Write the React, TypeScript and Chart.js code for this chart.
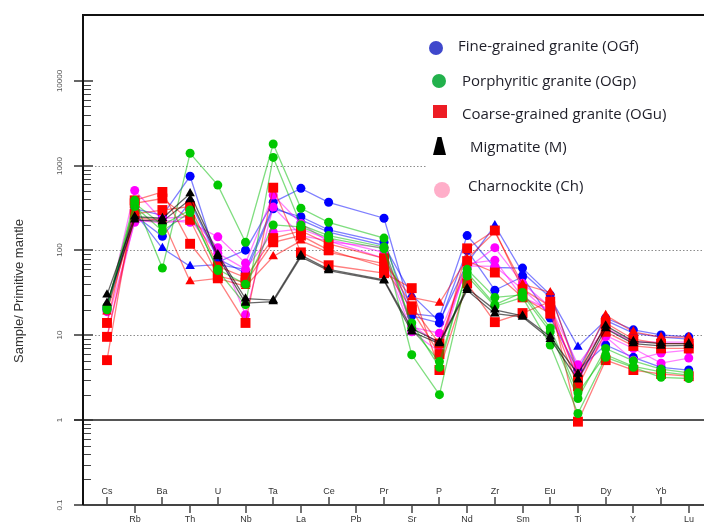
import React, { useEffect, useRef } from "react";
import { Chart, registerables } from "chart.js";

Chart.register(...registerables);

// ---- DATA ----
const elements = ["Cs","Rb","Ba","Th","U","Nb","Ta","La","Ce","Pb","Pr","Sr","P","Nd","Zr","Sm","Eu","Ti","Dy","Y","Yb","Lu"];
const yTickValues = [0.1, 1, 10, 100, 1000, 10000];
const yTickLabels = ["0.1", "1", "10", "100", "1000", "10000"];
const dottedGridValues = [10, 100, 1000];
const yTitle = "Sample/ Primitive mantle";

const legendLabels = [
  "Fine-grained granite (OGf)",
  "Porphyritic granite (OGp)",
  "Coarse-grained granite (OGu)",
  "Migmatite (M)",
  "Charnockite (Ch)",
];

// Fine-grained granite (OGf) - blue
const ogf1 = [21,310,260,750,73,101,370,540,370,null,240,18,16.5,150,63,62,30,3.9,16,11.6,10.1,9.6];
const ogf2 = [20,260,147,370,80,54,310,250,175,null,125,17,14,100,34,49,16,3.9,7.7,5.5,4.2,3.9];
const ogf3 = [23,280,106,65,68,60,330,230,165,null,115,30,14.5,71,197,55,28,7.3,15,10.6,9.5,9];
// Porphyritic granite (OGp) - green
const ogp1 = [22,390,62,1400,590,125,1800,315,215,null,140,12,4.9,55,23,32,12.2,2.1,5.9,4.3,3.7,3.4];
const ogp2 = [21,360,200,300,58,23,1250,200,150,null,110,5.9,2.0,50,22,28,7.7,1.2,5.5,4.2,3.2,3.1];
const ogp3 = [20,330,170,280,60,40,200,190,140,null,105,14,4.2,60,28,30,11,1.8,7,5,4,3.6];
// Coarse-grained granite (OGu) - red
const ogu1 = [5.1,390,490,120,47,14,550,95,67,null,54,36,3.9,41,14.3,18.3,25,0.96,5.1,3.9,3.5,3.3];
const ogu2 = [14,360,410,230,50,42,125,150,101,null,64,20,6,106,172,35,22,3,14,9,8,8];
const ogu3 = [19,240,230,43,47,38,85,130,95,null,70,28,24,80,165,40,32,3.5,17.3,11,9.5,9.5];
const ogu4 = [9.6,270,300,330,65,48,140,170,120,null,81,22,8,75,55,28,18,2.5,11,7.5,7,7];
// Migmatite (M) - black
const mig1 = [30,250,240,470,90,27,26,88,60,null,45,12,8.3,36,20,17,9.6,3.5,13,8.5,8,8];
const mig2 = [24,230,220,400,85,24,25,84,58,null,44,11,8,34,18,16.5,9,3.0,12,8,7.5,7.6];
// Charnockite (Ch) - magenta
const ch1 = [19,510,226,215,145,71,450,208,126,null,108,12.5,10.6,62,108,41,21.6,4.5,12.2,8.3,8.3,8.3];
const ch2 = [14,215,240,250,108,17.5,325,150,130,null,81,11,6.4,70,77,28,20,3.0,9.6,5.1,6.2,6.7];
const ch3 = [9.6,230,210,230,93,60,165,180,135,null,95,13,8,66,65,35,18,3.5,10,7,4.7,5.4];

type S = { data: (number | null)[]; color: string; line: string; style: string; r: number };

const BLUE = "#0000ff", GREEN = "#00c800", RED = "#ff0000", BLACK = "#000000", MAG = "#ff00ff";
const BLUE_L = "rgba(0,0,255,0.5)", GREEN_L = "rgba(0,190,0,0.5)", RED_L = "rgba(255,0,0,0.5)",
  BLACK_L = "rgba(0,0,0,0.6)", MAG_L = "rgba(255,0,255,0.5)";

const series: S[] = [
  { data: mig1, color: BLACK, line: BLACK_L, style: "triangle", r: 5.5 },
  { data: mig2, color: BLACK, line: BLACK_L, style: "triangle", r: 5.5 },
  { data: ogp1, color: GREEN, line: GREEN_L, style: "circle", r: 4.5 },
  { data: ogp2, color: GREEN, line: GREEN_L, style: "circle", r: 4.5 },
  { data: ogp3, color: GREEN, line: GREEN_L, style: "circle", r: 4.5 },
  { data: ogu1, color: RED, line: RED_L, style: "rect", r: 7 },
  { data: ogu2, color: RED, line: RED_L, style: "rect", r: 7 },
  { data: ogu3, color: RED, line: RED_L, style: "triangle", r: 5.5 },
  { data: ogu4, color: RED, line: RED_L, style: "rect", r: 7 },
  { data: ch1, color: MAG, line: MAG_L, style: "circle", r: 4.5 },
  { data: ch2, color: MAG, line: MAG_L, style: "circle", r: 4.5 },
  { data: ch3, color: MAG, line: MAG_L, style: "circle", r: 4.5 },
  { data: ogf1, color: BLUE, line: BLUE_L, style: "circle", r: 4.5 },
  { data: ogf2, color: BLUE, line: BLUE_L, style: "circle", r: 4.5 },
  { data: ogf3, color: BLUE, line: BLUE_L, style: "triangle", r: 5.5 },
];

const spiderPlugin = {
  id: "spiderAxes",
  beforeDatasetsDraw(chart: any) {
    const { ctx, chartArea: a, scales } = chart;
    const x = scales.x, y = scales.y;
    ctx.save();
    // dotted grid
    ctx.strokeStyle = "#8c8c8c";
    ctx.lineWidth = 1;
    ctx.setLineDash([1.5, 2]);
    dottedGridValues.forEach((v) => {
      const py = Math.round(y.getPixelForValue(v)) + 0.5;
      ctx.beginPath();
      ctx.moveTo(a.left + 12, py);
      ctx.lineTo(a.right, py);
      ctx.stroke();
    });
    ctx.setLineDash([]);
    // solid line at 1
    ctx.strokeStyle = "#555";
    ctx.lineWidth = 2;
    const p1 = Math.round(y.getPixelForValue(1));
    ctx.beginPath();
    ctx.moveTo(a.left - 9, p1);
    ctx.lineTo(a.right, p1);
    ctx.stroke();

    // minor ticks
    ctx.strokeStyle = "#444";
    ctx.lineWidth = 1;
    for (let d = -1; d < 4; d++) {
      for (let m = 2; m <= 9; m++) {
        const py = Math.round(y.getPixelForValue(m * Math.pow(10, d))) + 0.5;
        ctx.beginPath();
        ctx.moveTo(a.left, py);
        ctx.lineTo(a.left + 8, py);
        ctx.stroke();
      }
    }
    // major ticks + labels
    ctx.lineWidth = 1.5;
    ctx.strokeStyle = "#333";
    ctx.fillStyle = "#555";
    ctx.font = "8px Arial, 'Liberation Sans', sans-serif";
    ctx.textAlign = "center";
    ctx.textBaseline = "middle";
    yTickValues.forEach((v, i) => {
      const py = Math.round(y.getPixelForValue(v));
      ctx.beginPath();
      ctx.moveTo(a.left - 9, py);
      ctx.lineTo(a.left + 10, py);
      ctx.stroke();
      ctx.save();
      ctx.translate(a.left - 23, py);
      ctx.rotate(-Math.PI / 2);
      ctx.fillText(yTickLabels[i], 0, 0);
      ctx.restore();
    });

    // bottom axis
    ctx.strokeStyle = "#444";
    ctx.lineWidth = 2;
    ctx.beginPath();
    ctx.moveTo(a.left, a.bottom);
    ctx.lineTo(a.right, a.bottom);
    ctx.stroke();
    // x ticks + labels
    ctx.lineWidth = 1.5;
    ctx.fillStyle = "#333";
    ctx.font = "9px Arial, 'Liberation Sans', sans-serif";
    elements.forEach((el, i) => {
      const px = Math.round(x.getPixelForValue(i));
      ctx.beginPath();
      if (i % 2 === 0) {
        ctx.moveTo(px, a.bottom);
        ctx.lineTo(px, a.bottom - 8);
        ctx.stroke();
        ctx.fillText(el, px, a.bottom - 13);
      } else {
        ctx.moveTo(px, a.bottom);
        ctx.lineTo(px, a.bottom + 8);
        ctx.stroke();
        ctx.fillText(el, px, a.bottom + 15);
      }
    });

    // left and top frame
    ctx.strokeStyle = "#111";
    ctx.lineWidth = 2;
    ctx.beginPath();
    ctx.moveTo(a.right, a.top);
    ctx.lineTo(a.left, a.top);
    ctx.lineTo(a.left, a.bottom);
    ctx.stroke();

    // y title
    ctx.fillStyle = "#333";
    ctx.font = "13px Arial, 'Liberation Sans', sans-serif";
    ctx.save();
    ctx.translate(19, 291);
    ctx.rotate(-Math.PI / 2);
    ctx.fillText(yTitle, 0, 0);
    ctx.restore();
    ctx.restore();
  },
  afterDatasetsDraw(chart: any) {
    const { ctx } = chart;
    ctx.save();
    ctx.fillStyle = "#ffffff";
    ctx.fillRect(426, 22, 278, 193);
    // markers
    ctx.fillStyle = "#3f48cc";
    ctx.beginPath(); ctx.arc(436, 48, 7, 0, Math.PI * 2); ctx.fill();
    ctx.fillStyle = "#22b14c";
    ctx.beginPath(); ctx.arc(439, 81, 7, 0, Math.PI * 2); ctx.fill();
    ctx.fillStyle = "#ed1c24";
    ctx.fillRect(433, 105, 14, 13);
    ctx.fillStyle = "#000";
    ctx.beginPath();
    ctx.moveTo(437.5, 137); ctx.lineTo(441.5, 137); ctx.lineTo(446, 155); ctx.lineTo(433, 155);
    ctx.closePath(); ctx.fill();
    ctx.fillStyle = "#ffaec9";
    ctx.beginPath(); ctx.arc(442, 190, 8, 0, Math.PI * 2); ctx.fill();
    // texts
    ctx.fillStyle = "#1e1e28";
    ctx.font = "15px 'Open Sans', sans-serif";
    ctx.textAlign = "left";
    ctx.textBaseline = "middle";
    const pos = [[458, 47], [462, 82], [462, 115], [470, 148], [468, 187]];
    legendLabels.forEach((t, i) => ctx.fillText(t, pos[i][0], pos[i][1]));
    ctx.restore();
  },
};

export default function App() {
  const ref = useRef<HTMLCanvasElement>(null);
  useEffect(() => {
    if (!ref.current) return;
    const chart = new Chart(ref.current, {
      type: "line",
      data: {
        datasets: series.map((s, k) => ({
          label: "s" + k,
          data: s.data.map((v, i) => ({ x: i, y: v })) as any,
          borderColor: s.line,
          backgroundColor: s.color,
          pointBackgroundColor: s.color,
          pointBorderColor: s.color,
          pointBorderWidth: 0,
          pointStyle: s.style as any,
          pointRadius: s.r,
          borderWidth: 1.3,
          spanGaps: true,
          tension: 0,
        })),
      },
      options: {
        animation: false,
        responsive: false,
        events: [],
        layout: { autoPadding: false, padding: { left: 83, top: 15, right: 0, bottom: 19 } },
        plugins: { legend: { display: false }, tooltip: { enabled: false }, title: { display: false } },
        scales: {
          x: { type: "linear", min: -0.866, max: 21.55, display: false },
          y: { type: "logarithmic", min: 0.1, max: 59700, display: false },
        },
      },
      plugins: [spiderPlugin],
    });
    return () => chart.destroy();
  }, []);
  return (
    <div style={{ position: "fixed", left: 0, top: 0, width: 704, height: 524, background: "#fff" }}>
      <canvas ref={ref} width={704} height={524} style={{ display: "block", width: 704, height: 524 }} />
    </div>
  );
}
